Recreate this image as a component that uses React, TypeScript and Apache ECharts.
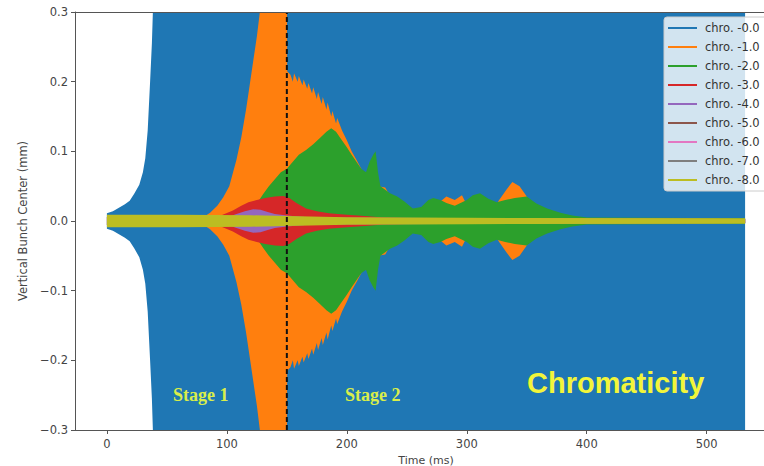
import React, { useEffect, useRef } from "react";
import * as echarts from "echarts";

// Envelope amplitudes (mm) of each chromaticity run vs time (ms).
const names = ["chro. -0.0", "chro. -1.0", "chro. -2.0", "chro. -3.0", "chro. -4.0", "chro. -5.0", "chro. -6.0", "chro. -7.0", "chro. -8.0"];
const colors = ["#1f77b4", "#ff7f0e", "#2ca02c", "#d62728", "#9467bd", "#8c564b", "#e377c2", "#7f7f7f", "#bcbd22"];

const env0: [number, number][] = [
  [0, 0.011], [5, 0.014], [10, 0.019], [15, 0.024], [19, 0.029], [23, 0.04], [27, 0.052], [30, 0.07],
  [32, 0.09], [34, 0.13], [36, 0.2], [37.5, 0.255], [38.5, 0.31], [40, 0.5], [532, 0.5],
];
const env1: [number, number][] = [
  [80, 0.005], [86, 0.012], [92, 0.022], [97, 0.034], [102, 0.05], [108, 0.088], [112, 0.12], [116, 0.16],
  [119, 0.195], [122, 0.23], [125, 0.265], [127.5, 0.3], [130, 0.4], [150, 0.4], [150.3, 0.215],
  [153, 0.21], [155, 0.2], [156, 0.212], [159, 0.2], [160, 0.208], [163, 0.195], [164, 0.203], [167, 0.19],
  [168, 0.198], [171, 0.183], [172, 0.192], [175, 0.175], [176, 0.185], [179, 0.168], [180, 0.178],
  [183, 0.16], [184, 0.17], [187, 0.15], [188, 0.158], [191, 0.14], [192, 0.148], [196, 0.13], [200, 0.116],
  [204, 0.1], [208, 0.088], [212, 0.075], [216, 0.065], [220, 0.055], [226, 0.05], [232, 0.048], [238, 0.03],
  [245, 0.02], [255, 0.012], [270, 0.012], [276, 0.025], [283, 0.035], [290, 0.03], [296, 0.037], [302, 0.016],
  [310, 0.01], [320, 0.012], [327, 0.03], [333, 0.045], [338, 0.056], [344, 0.05], [350, 0.035], [356, 0.012],
  [370, 0.006], [400, 0.004], [532, 0.003],
];
const env2: [number, number][] = [
  [110, 0.005], [120, 0.015], [125, 0.025], [130, 0.038], [135, 0.05], [140, 0.06], [145, 0.07], [150, 0.075],
  [155, 0.085], [160, 0.095], [166, 0.102], [172, 0.11], [178, 0.12], [183, 0.128], [187, 0.133], [191, 0.128],
  [195, 0.118], [200, 0.106], [204, 0.095], [208, 0.085], [212, 0.075], [216, 0.07], [219, 0.085], [222, 0.095],
  [224, 0.1], [226, 0.07], [228, 0.05], [232, 0.045], [236, 0.04], [242, 0.035], [248, 0.028], [255, 0.018],
  [262, 0.02], [268, 0.03], [272, 0.033], [278, 0.03], [283, 0.026], [290, 0.022], [300, 0.03], [305, 0.037],
  [311, 0.04], [318, 0.032], [325, 0.027], [332, 0.03], [340, 0.033], [350, 0.035], [358, 0.025], [367, 0.018],
  [378, 0.012], [388, 0.008], [400, 0.005], [532, 0.004],
];
const env3: [number, number][] = [
  [85, 0.004], [95, 0.008], [105, 0.015], [112, 0.022], [118, 0.027], [125, 0.03], [132, 0.033], [140, 0.035],
  [147, 0.036], [152, 0.033], [158, 0.026], [166, 0.018], [175, 0.014], [185, 0.011], [200, 0.009], [215, 0.007],
  [230, 0.005], [260, 0.004], [532, 0.003],
];
const env4: [number, number][] = [
  [100, 0.005], [108, 0.01], [115, 0.014], [122, 0.017], [128, 0.016], [134, 0.013], [140, 0.01], [150, 0.008],
  [170, 0.005], [532, 0.003],
];
const env5: [number, number][] = [[0, 0.006], [100, 0.006], [140, 0.007], [200, 0.004], [532, 0.003]];
const env6: [number, number][] = [[0, 0.006], [100, 0.006], [140, 0.006], [200, 0.004], [532, 0.003]];
const env7: [number, number][] = [[0, 0.006], [100, 0.006], [140, 0.006], [200, 0.004], [532, 0.003]];
const env8: [number, number][] = [
  [0, 0.009], [60, 0.0088], [120, 0.0082], [150, 0.007], [200, 0.0055], [300, 0.0045], [532, 0.004],
];
const envelopes = [env0, env1, env2, env3, env4, env5, env6, env7, env8];

const xTicks = [0, 100, 200, 300, 400, 500];
const stageTime = 150;
const xMin = -26.6;
const xMax = 558.6;

export default function App() {
  const ref = useRef<HTMLDivElement>(null);
  useEffect(() => {
    document.body.style.margin = "0";
    const chart = echarts.init(ref.current!, null, { renderer: "svg" });
    const series: any[] = [];
    envelopes.forEach((env, i) => {
      [1, -1].forEach((sign) => {
        series.push({
          type: "line",
          name: names[i],
          data: env.map(([t, a]) => [t, sign * a]),
          showSymbol: false,
          symbol: "none",
          lineStyle: { width: 0, color: colors[i] },
          itemStyle: { color: colors[i] },
          areaStyle: { color: colors[i], opacity: 1, origin: "auto" },
          z: 2,
          silent: true,
        });
      });
    });
    series.push({
      type: "line",
      name: "stage",
      data: [[stageTime, -0.3], [stageTime, 0.3]],
      showSymbol: false,
      symbol: "none",
      lineStyle: { color: "#111", width: 2, type: [5, 3] },
      z: 5,
      silent: true,
    });
    const axisText = { color: "#444", fontSize: 11.5, fontFamily: "DejaVu Sans" };
    chart.setOption({
      animation: false,
      backgroundColor: "#fff",
      grid: { left: 75, top: 12, right: -13, bottom: 36, containLabel: false, outerBoundsMode: "none" },
      xAxis: [
        {
          type: "value",
          min: xMin,
          max: xMax,
          position: "bottom",
          z: 10,
          name: "Time (ms)",
          nameLocation: "middle",
          nameGap: 24,
          nameTextStyle: { ...axisText, fontSize: 11 },
          axisLine: { show: true, onZero: false, lineStyle: { color: "#555", width: 1 } },
          axisTick: { show: true, length: 4, customValues: xTicks, lineStyle: { color: "#555" } },
          axisLabel: { ...axisText, margin: 8, customValues: xTicks, formatter: (v: number) => String(v) },
          splitLine: { show: false },
        },
        {
          type: "value",
          min: xMin,
          max: xMax,
          position: "top",
          z: 10,
          axisLine: { show: true, onZero: false, lineStyle: { color: "#555", width: 1 } },
          axisTick: { show: false },
          axisLabel: { show: false },
          splitLine: { show: false },
        },
      ],
      yAxis: {
        type: "value",
        min: -0.3,
        max: 0.3,
        interval: 0.1,
        z: 10,
        name: "Vertical Bunch Center (mm)",
        nameLocation: "middle",
        nameGap: 43,
        nameTextStyle: { ...axisText, fontSize: 11.5 },
        axisLine: { show: true, onZero: false, lineStyle: { color: "#555", width: 1 } },
        axisTick: { show: true, length: 4, lineStyle: { color: "#555" } },
        axisLabel: {
          ...axisText,
          margin: 7,
          formatter: (v: number) => v.toFixed(1).replace("-", "\u2212"),
        },
        splitLine: { show: false },
      },
      legend: {
        data: names,
        orient: "vertical",
        left: 664,
        top: 17,
        itemWidth: 29,
        itemHeight: 2,
        itemGap: 5,
        icon: "rect",
        padding: [4, 20, 4, 4],
        backgroundColor: "rgba(255,255,255,0.8)",
        borderColor: "#ccc",
        borderWidth: 1,
        borderRadius: 3,
        textStyle: { color: "#333", fontSize: 11.5, fontFamily: "DejaVu Sans", lineHeight: 14, padding: [0, 0, 0, 3] },
        selectedMode: false,
      },
      graphic: [
        {
          type: "text",
          left: 173,
          top: 386,
          style: { text: "Stage 1", fill: "#d9ee4a", font: "bold 18px 'Liberation Serif'" },
          z: 20,
        },
        {
          type: "text",
          left: 345,
          top: 386,
          style: { text: "Stage 2", fill: "#d9ee4a", font: "bold 18px 'Liberation Serif'" },
          z: 20,
        },
        {
          type: "text",
          left: 527,
          top: 368,
          style: { text: "Chromaticity", fill: "#f2f53a", font: "bold 29px 'Liberation Sans'" },
          z: 20,
        },
      ],
      series,
    });
    return () => chart.dispose();
  }, []);
  return <div ref={ref} style={{ width: 764, height: 466, position: "fixed", left: 0, top: 0 }} />;
}
